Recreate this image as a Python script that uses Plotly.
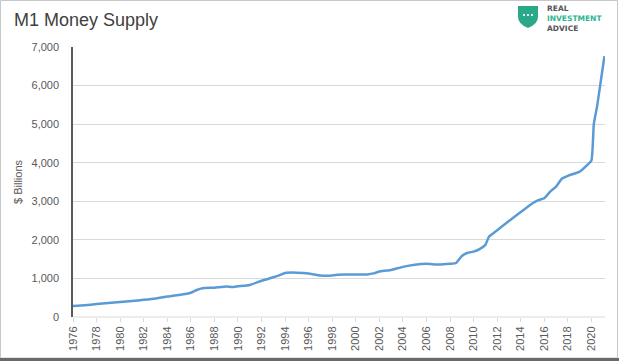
import plotly.graph_objects as go

# ---- data ----
years = [1976.0, 1977.0, 1978.0, 1979.0, 1980.0, 1981.0, 1982.0, 1983.0, 1984.0, 1985.0,
         1986.0, 1986.5, 1987.0, 1988.0, 1989.0, 1989.5, 1990.0, 1991.0, 1992.0, 1993.0,
         1993.5, 1994.0, 1995.0, 1996.0, 1996.5, 1997.0, 1998.0, 1998.5, 1999.0, 2000.0,
         2001.0, 2001.5, 2002.0, 2002.5, 2003.0, 2004.0, 2005.0, 2006.0, 2007.0, 2008.0,
         2008.5, 2009.0, 2009.5, 2010.0, 2010.5, 2011.0, 2011.3, 2012.0, 2013.0, 2014.0,
         2015.0, 2015.5, 2016.0, 2016.5, 2017.0, 2017.5, 2018.0, 2019.0, 2019.5, 2020.0,
         2020.2, 2020.5, 2021.1]
m1_billions = [285, 305, 335, 360, 390, 415, 445, 480, 530, 570,
               630, 700, 745, 760, 790, 775, 795, 830, 940, 1030,
               1080, 1140, 1150, 1130, 1100, 1075, 1075, 1095, 1100, 1105,
               1105, 1130, 1180, 1200, 1220, 1300, 1355, 1380, 1360, 1380,
               1400, 1580, 1665, 1695, 1760, 1870, 2080, 2250, 2490, 2720,
               2950, 3030, 3080, 3250, 3380, 3590, 3660, 3770, 3900, 4060,
               5000, 5500, 6760]
x_ticks = list(range(1976, 2021, 2))
x_tick_labels = [str(y) for y in x_ticks]
y_ticks = [0, 1000, 2000, 3000, 4000, 5000, 6000, 7000]
y_tick_labels = ["0", "1,000", "2,000", "3,000", "4,000", "5,000", "6,000", "7,000"]

W, H = 619, 362
L, R, T, B = 73, 14, 47, 45
pw, ph = W - L - R, H - T - B

def px(x):
    return (x - L) / pw

def py(y):
    return 1 - (y - T) / ph

fig = go.Figure()
fig.add_trace(go.Scatter(
    x=years, y=m1_billions, mode="lines",
    line=dict(color="#5b9bd5", width=2.5, shape="spline", smoothing=0.4),
    hoverinfo="x+y", showlegend=False,
))

font_family = "Liberation Sans, Arial, sans-serif"
fig.update_layout(
    width=W, height=H,
    margin=dict(l=L, r=R, t=T, b=B, autoexpand=False),
    paper_bgcolor="white", plot_bgcolor="white",
    font=dict(family=font_family, color="#595959", size=11),
    title=dict(text="M1 Money Supply", x=14 / W, xref="container", xanchor="left",
               y=1 - 20 / H, yref="container", yanchor="middle",
               font=dict(size=18, color="#404040", family=font_family)),
    xaxis=dict(range=[1976, 2021.15], tickvals=x_ticks, ticktext=x_tick_labels,
               tickangle=-90, showgrid=False, zeroline=False, automargin=False,
               ticks="outside", ticklen=4, tickcolor="#d9d9d9",
               tickfont=dict(size=11, color="#595959"), showline=False),
    yaxis=dict(range=[0, 7000], tickvals=y_ticks, ticktext=y_tick_labels,
               showgrid=True, gridcolor="#d9d9d9", gridwidth=1, zeroline=False,
               showline=True, linecolor="#595959", linewidth=1.5, automargin=False,
               ticks="", ticklabelstandoff=10,
               tickfont=dict(size=11, color="#595959"),
               title=dict(text="$ Billions", font=dict(size=11, color="#595959"), standoff=7)),
)

# light zero gridline at bottom
fig.add_shape(type="line", xref="paper", yref="paper", x0=0, x1=1, y0=0, y1=0,
              line=dict(color="#d9d9d9", width=1), layer="below")

# outer frame of the picture
fig.add_shape(type="rect", xref="paper", yref="paper",
              x0=px(0.5), x1=px(617.5), y0=py(358), y1=py(0.5),
              line=dict(color="#c8c8c8", width=1))
fig.add_shape(type="line", xref="paper", yref="paper",
              x0=px(0), x1=px(619), y0=py(359.5), y1=py(359.5),
              line=dict(color="#6a6a6a", width=3))

# logo: shield
path = (f"M {px(518)},{py(6)} L {px(538)},{py(6)} L {px(538)},{py(17)} "
        f"Q {px(538)},{py(24)} {px(528)},{py(28)} "
        f"Q {px(518)},{py(24)} {px(518)},{py(17)} Z")
fig.add_shape(type="path", xref="paper", yref="paper", path=path,
              fillcolor="#2aa888", line=dict(color="#2aa888", width=0))
for dx in (524, 528, 532):
    fig.add_shape(type="circle", xref="paper", yref="paper",
                  x0=px(dx - 1.1), x1=px(dx + 1.1), y0=py(16.1), y1=py(13.9),
                  fillcolor="white", line=dict(width=0))
logo_text = ("<span style='color:#555555'><b>REAL</b></span><br>"
             "<span style='color:#2bb592'><b>INVESTMENT</b></span><br>"
             "<span style='color:#555555'><b>ADVICE</b></span>")
fig.add_annotation(text=logo_text, xref="paper", yref="paper",
                   x=px(546), y=py(3), xanchor="left", yanchor="top", align="left",
                   showarrow=False, borderpad=0,
                   font=dict(size=7.5, family="DejaVu Sans, sans-serif"))

fig.write_html("out.html", config={"displayModeBar": False},
               post_script="document.body.style.margin='0';")
